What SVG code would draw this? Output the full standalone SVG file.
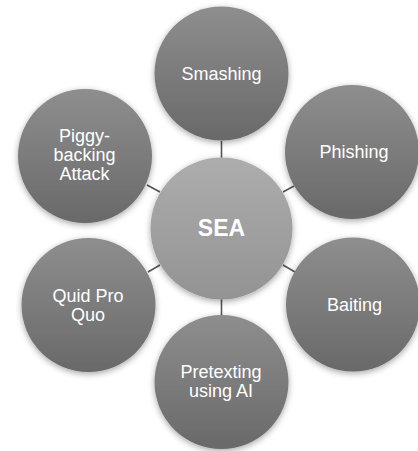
<svg xmlns="http://www.w3.org/2000/svg" width="418" height="451" viewBox="0 0 418 451">
  <defs>
    <linearGradient id="outerFill" x1="0" y1="0" x2="0" y2="1">
      <stop offset="0" stop-color="#8e8e8e"/>
      <stop offset="1" stop-color="#696969"/>
    </linearGradient>
    <linearGradient id="hubFill" x1="0" y1="0" x2="0" y2="1">
      <stop offset="0" stop-color="#adadad"/>
      <stop offset="1" stop-color="#939393"/>
    </linearGradient>
    <filter id="softShadow" x="-20%" y="-20%" width="140%" height="140%">
      <feDropShadow dx="0" dy="2" stdDeviation="3" flood-color="#000" flood-opacity="0.35"/>
    </filter>
  </defs>
  <style>
    .outer { fill: url(#outerFill); filter: url(#softShadow); }
    .hub { fill: url(#hubFill); filter: url(#softShadow); }
    .label { fill: #ffffff; font-family: "Liberation Sans", Arial, sans-serif; font-size: 18px; text-anchor: middle; }
    .hub-label { fill: #ffffff; font-family: "Liberation Sans", Arial, sans-serif; font-size: 23px; font-weight: bold; text-anchor: middle; }
    .link { stroke: #555555; stroke-width: 1.6; fill: none; }
  </style>

  <rect width="418" height="451" fill="#ffffff"/>

  <!-- spokes from the hub to each satellite -->
  <g id="connectors">
    <line class="link" x1="221.5" y1="141" x2="221.5" y2="158"/>
    <line class="link" x1="283" y1="192" x2="294" y2="186"/>
    <line class="link" x1="283" y1="265" x2="295" y2="272"/>
    <line class="link" x1="221.5" y1="299" x2="221.5" y2="316"/>
    <line class="link" x1="160" y1="265" x2="148" y2="272"/>
    <line class="link" x1="160" y1="192" x2="147" y2="185"/>
  </g>

  <g id="node-smashing">
    <circle class="outer" cx="221.5" cy="73.5" r="67"/>
    <text class="label" x="221.5" y="80">Smashing</text>
  </g>

  <g id="node-phishing">
    <circle class="outer" cx="352" cy="152" r="67"/>
    <text class="label" x="354" y="158">Phishing</text>
  </g>

  <g id="node-baiting">
    <circle class="outer" cx="353" cy="304.5" r="67"/>
    <text class="label" x="354.5" y="311">Baiting</text>
  </g>

  <g id="node-pretexting">
    <circle class="outer" cx="221.5" cy="382" r="67"/>
    <text class="label" x="221" y="378">Pretexting</text>
    <text class="label" x="221" y="397">using AI</text>
  </g>

  <g id="node-quid-pro-quo">
    <circle class="outer" cx="88.5" cy="305" r="67"/>
    <text class="label" x="88" y="302">Quid Pro</text>
    <text class="label" x="88" y="320.5">Quo</text>
  </g>

  <g id="node-piggybacking">
    <circle class="outer" cx="85" cy="156" r="67"/>
    <text class="label" x="84.5" y="142">Piggy-</text>
    <text class="label" x="84.5" y="161">backing</text>
    <text class="label" x="84.5" y="180">Attack</text>
  </g>

  <g id="node-sea">
    <circle class="hub" cx="221.5" cy="228.5" r="71"/>
    <text class="hub-label" x="221.5" y="236">SEA</text>
  </g>
</svg>
